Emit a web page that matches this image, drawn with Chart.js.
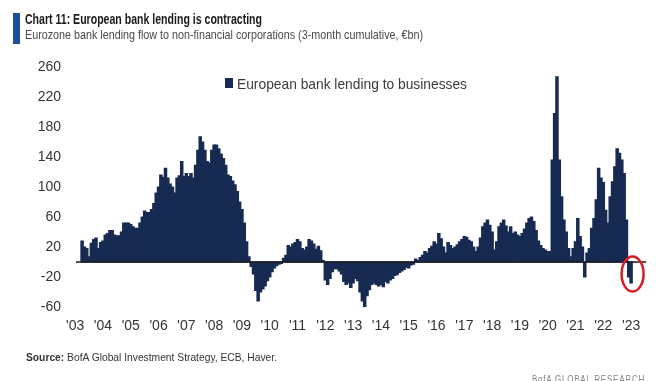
<!DOCTYPE html>
<html><head><meta charset="utf-8">
<script src="https://cdn.jsdelivr.net/npm/chart.js@4.4.0/dist/chart.umd.min.js"></script>
<style>
html,body{margin:0;padding:0;background:#fff;width:656px;height:381px;overflow:hidden;position:relative;font-family:"Liberation Sans",Arial,sans-serif;}
#c{position:absolute;left:0;top:0;}
.fit{position:absolute;white-space:nowrap;transform-origin:0 0;line-height:1;}
#bar{position:absolute;left:13px;top:13px;width:7px;height:31px;background:#1f4f9f;}
#title{left:25px;top:11.5px;font-weight:bold;font-size:14.5px;color:#1a1a1a;}
#sub{left:25px;top:27.5px;font-size:13px;color:#4a4a4a;}
#legsq{position:absolute;left:225px;top:78px;width:8px;height:10px;background:#172a52;}
#legtx{left:237px;top:76px;font-size:15px;color:#3a3a3a;}
#src{left:26px;top:352px;font-size:11px;color:#333;}
#bofa{left:532px;top:374px;font-size:11px;color:#888;letter-spacing:1px;}
</style></head>
<body>
<canvas id="c" width="656" height="381"></canvas>
<div id="bar"></div>
<div id="title" class="fit" data-w="237">Chart 11: European bank lending is contracting</div>
<div id="sub" class="fit" data-w="398">Eurozone bank lending flow to non-financial corporations (3-month cumulative, €bn)</div>
<div id="legsq"></div>
<div id="legtx" class="fit" data-w="230">European bank lending to businesses</div>
<div id="src" class="fit" data-w="251"><b>Source:</b> BofA Global Investment Strategy, ECB, Haver.</div>
<div id="bofa" class="fit" data-w="113">BofA GLOBAL RESEARCH</div>
<script>
// Monthly 3-month cumulative flows, €bn (2003 starts in April, 2023 ends in January)
const lend2003 = [28, 20, 18, 7, 25, 30, 32, 18, 26];
const lend2004 = [28, 36, 38, 42, 42, 36, 35, 35, 40, 52, 52, 52];
const lend2005 = [50, 47, 45, 45, 52, 60, 68, 66, 66, 70, 78, 92];
const lend2006 = [100, 116, 113, 125, 112, 104, 100, 92, 112, 115, 134, 114];
const lend2007 = [118, 114, 118, 112, 129, 149, 167, 160, 149, 134, 132, 149];
const lend2008 = [156, 156, 151, 144, 138, 129, 116, 114, 108, 103, 94, 80];
const lend2009 = [70, 52, 27, 7, -6, -16, -38, -52, -40, -36, -32, -25];
const lend2010 = [-20, -13, -8, -5, -3, -2, 5, 9, 22, 20, 24, 26];
const lend2011 = [30, 27, 18, 16, 20, 30, 28, 24, 17, 21, 15, 2];
const lend2012 = [-24, -30, -22, -13, -9, -9, -12, -16, -26, -30, -28, -34];
const lend2013 = [-28, -22, -25, -40, -52, -60, -45, -37, -30, -28, -30, -32];
const lend2014 = [-30, -33, -26, -28, -24, -22, -18, -17, -14, -12, -10, -7];
const lend2015 = [-8, -4, -3, 4, 2, 6, 9, 14, 12, 18, 21, 27];
const lend2016 = [24, 38, 31, 20, 12, 26, 22, 18, 20, 23, 27, 30];
const lend2017 = [34, 33, 29, 27, 20, 14, 20, 32, 47, 52, 56, 49];
const lend2018 = [40, 16, 27, 47, 52, 56, 48, 40, 47, 38, 40, 36];
const lend2019 = [34, 38, 44, 52, 58, 60, 54, 42, 28, 22, 18, 16];
const lend2020 = [14, 14, 136, 198, 247, 136, 87, 56, 40, 18, 7, 18];
const lend2021 = [27, 58, 34, 20, -20, 12, 18, 45, 58, 83, 125, 112];
const lend2022 = [106, 69, 52, 87, 107, 127, 151, 145, 136, 118, 56, -20];
const lend2023 = [-28];

const years = ['2003','2004','2005','2006','2007','2008','2009','2010','2011','2012','2013','2014','2015','2016','2017','2018','2019','2020','2021','2022','2023'];
const yearTicks = ["'03","'04","'05","'06","'07","'08","'09","'10","'11","'12","'13","'14","'15","'16","'17","'18","'19","'20","'21","'22","'23"];
const seriesName = 'European bank lending to businesses';

const series = [].concat(lend2003, lend2004, lend2005, lend2006, lend2007, lend2008, lend2009, lend2010,
  lend2011, lend2012, lend2013, lend2014, lend2015, lend2016, lend2017, lend2018, lend2019, lend2020,
  lend2021, lend2022, lend2023);

// month categories Jan 2003 .. Jul 2023
const categories = [];
years.forEach(y => { for (let m = 1; m <= 12; m++) { if (y === '2023' && m > 7) break; categories.push(y + '-' + String(m).padStart(2, '0')); } });
const values = categories.map(() => null);
series.forEach((v, k) => { values[3 + k] = v; });
const lastIdx = 3 + series.length - 1;

const zeroLine = {
  id: 'zeroLine',
  afterDatasetsDraw(chart) {
    const {ctx, chartArea: a, scales: {y}} = chart;
    const py = y.getPixelForValue(0);
    ctx.save();
    ctx.strokeStyle = '#1a1a1a'; ctx.lineWidth = 1.5;
    ctx.beginPath(); ctx.moveTo(a.left + 2, py); ctx.lineTo(a.right, py); ctx.stroke();
    ctx.restore();
  }
};
const ring = {
  id: 'ring',
  afterDatasetsDraw(chart) {
    const {ctx, scales: {x, y}} = chart;
    const cx = x.getPixelForValue(lastIdx) + 1.5;
    const cy = y.getPixelForValue(-16);
    ctx.save();
    ctx.strokeStyle = '#d41f26'; ctx.lineWidth = 2.5;
    ctx.beginPath(); ctx.ellipse(cx, cy, 11, 17.5, 0, 0, Math.PI * 2); ctx.stroke();
    ctx.restore();
  }
};

new Chart(document.getElementById('c'), {
  type: 'bar',
  data: { labels: categories, datasets: [{ label: seriesName, data: values, backgroundColor: '#172a52', borderWidth: 0, inflateAmount: 0.6, barPercentage: 1, categoryPercentage: 1 }] },
  options: {
    responsive: false, animation: false, devicePixelRatio: 1,
    layout: { padding: { left: 0, top: 67, right: 9, bottom: 0 } },
    plugins: { legend: { display: false }, tooltip: { enabled: false }, title: { display: false } },
    scales: {
      x: {
        grid: { display: false, drawTicks: false }, border: { display: false },
        ticks: {
          autoSkip: false, maxRotation: 0, minRotation: 0, padding: 11,
          color: '#333', font: { family: 'Liberation Sans', size: 14 },
          callback: function (val, idx) {
            const c = categories[idx];
            if (c.endsWith('-01')) return yearTicks[years.indexOf(c.slice(0, 4))];
            return '';
          }
        },
        afterFit: s => { s.height = 74; }
      },
      y: {
        min: -60, max: 260,
        grid: { display: false, drawTicks: false }, border: { display: false },
        ticks: { stepSize: 40, padding: 13, color: '#333', font: { family: 'Liberation Sans', size: 14 } },
        afterFit: s => { s.width = 74; }
      }
    }
  },
  plugins: [zeroLine, ring]
});

document.querySelectorAll('.fit').forEach(el => {
  const w = +el.dataset.w;
  const cur = el.getBoundingClientRect().width;
  el.style.transform = 'scaleX(' + (w / cur) + ')';
});
</script>
</body></html>
